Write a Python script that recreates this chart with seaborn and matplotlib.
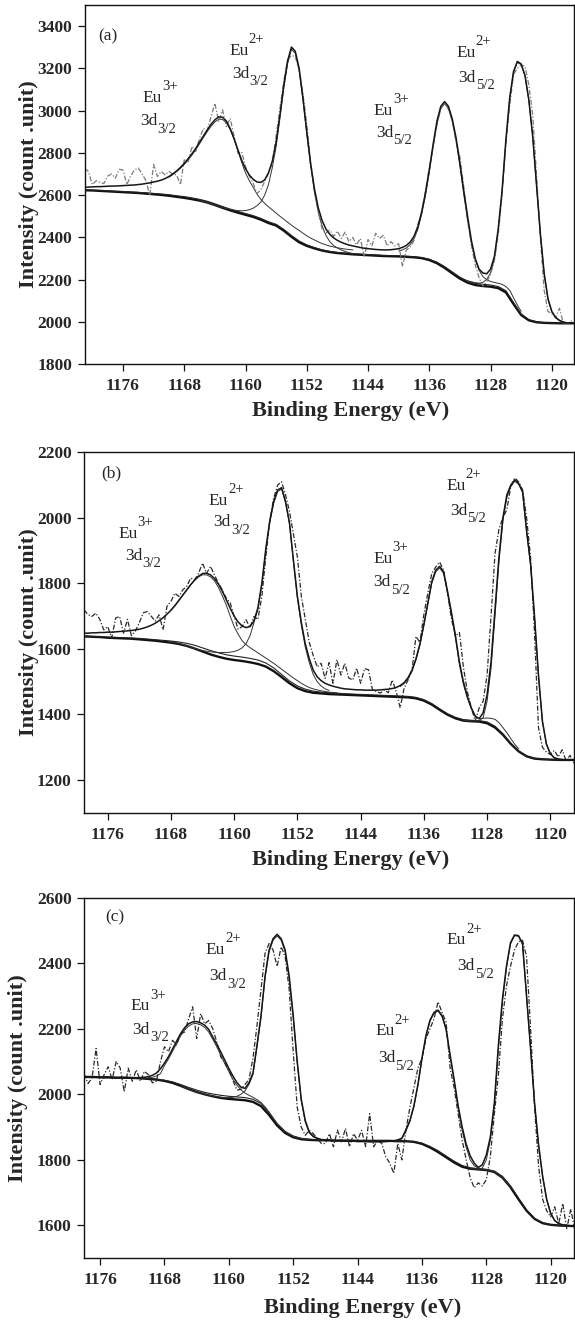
import numpy as np
import matplotlib
matplotlib.use("Agg")
import matplotlib.pyplot as plt
import seaborn as sns

# ---- Eu 3d XPS spectra, three samples (a), (b), (c) ----
# intensities, high -> low binding energy

# panel (a): scan 1181 -> 1117 eV, 0.5 eV step (fit/exp), 1 eV step (backgrounds)
A_SCAN = (1181.0, 1117.0)
A_EXP = [
    2727, 2711, 2650, 2668, 2660, 2655, 2690, 2700, 2680, 2722,
    2719, 2650, 2690, 2720, 2728, 2700, 2668, 2600, 2745, 2688,
    2712, 2695, 2712, 2700, 2695, 2650, 2767, 2752, 2830, 2806,
    2869, 2915, 2905, 2971, 3034, 2947, 3003, 2924, 2963, 2880,
    2798, 2805, 2735, 2690, 2656, 2608, 2625, 2665, 2703, 2752,
    2880, 3010, 3140, 3240, 3260, 3255, 3190, 3080, 2935, 2760,
    2620, 2520, 2440, 2420, 2435, 2405, 2430, 2395, 2425, 2380,
    2400, 2365, 2395, 2309, 2390, 2360, 2420, 2395, 2410, 2360,
    2380, 2360, 2370, 2262, 2340, 2355, 2385, 2460, 2515, 2620,
    2730, 2830, 2930, 3010, 3035, 3005, 2950, 2850, 2780, 2640,
    2480, 2360, 2270, 2210, 2170, 2190, 2225, 2290, 2410, 2600,
    2840, 3020, 3170, 3200, 3215, 3210, 3120, 2980, 2700, 2400,
    2150, 2050, 2040, 2020, 2065, 1995, 1990, 2005, 1990]
A_FIT = [
    2637, 2638, 2639, 2640, 2640, 2641, 2642, 2643, 2643, 2644,
    2645, 2646, 2647, 2648, 2650, 2652, 2655, 2658, 2662, 2666,
    2671, 2678, 2688, 2700, 2714, 2731, 2750, 2772, 2795, 2821,
    2850, 2880, 2908, 2935, 2956, 2970, 2968, 2950, 2915, 2868,
    2815, 2765, 2725, 2695, 2675, 2662, 2660, 2672, 2705, 2760,
    2850, 2980, 3120, 3235, 3300, 3280, 3200, 3060, 2900, 2750,
    2630, 2540, 2480, 2440, 2415, 2398, 2386, 2377, 2370, 2364,
    2360, 2356, 2352, 2349, 2347, 2345, 2343, 2342, 2341, 2341,
    2342, 2344, 2347, 2353, 2362, 2378, 2405, 2450, 2520, 2610,
    2720, 2840, 2950, 3020, 3042, 3020, 2960, 2870, 2750, 2620,
    2500, 2385, 2300, 2250, 2232, 2228, 2250, 2310, 2440, 2620,
    2860, 3060, 3185, 3232, 3220, 3165, 3050, 2880, 2650, 2420,
    2230, 2110, 2050, 2022, 2008, 2000, 1996, 1995, 1994]
A_BG = [
    2623, 2622, 2620, 2618, 2616, 2614, 2612, 2610, 2607, 2604,
    2601, 2597, 2592, 2587, 2581, 2574, 2565, 2553, 2540, 2528,
    2517, 2507, 2497, 2484, 2468, 2456, 2432, 2403, 2377, 2360,
    2348, 2338, 2331, 2326, 2323, 2320, 2318, 2316, 2314, 2312,
    2311, 2310, 2308, 2306, 2302, 2293, 2278, 2256, 2230, 2205,
    2186, 2175, 2170, 2167, 2160, 2140, 2085, 2033, 2008, 1999,
    1996, 1995, 1994, 1994, 1994]
A_BG2 = [
    2624, 2623, 2622, 2620, 2618, 2617, 2615, 2613, 2611, 2608,
    2605, 2602, 2597, 2593, 2587, 2580, 2571, 2559, 2546, 2534,
    2523, 2513, 2503, 2490, 2474, 2462, 2438, 2409, 2383, 2365,
    2352, 2341, 2334, 2329, 2326, 2323, 2321, 2319, 2317, 2315,
    2314, 2313, 2311, 2309, 2305, 2297, 2283, 2262, 2237, 2212,
    2194, 2183, 2178, 2175, 2168, 2148, 2092, 2038, 2011, 2001,
    1997, 1995, 1994, 1994, 1994]
# fitted components (peak + background), each on its own stretch of the scan
A_C1 = (1170.0, 1146.0, [
    2685, 2697, 2711, 2727, 2745, 2766, 2789, 2815, 2843, 2872,
    2900, 2926, 2946, 2958, 2958, 2942, 2910, 2865, 2810, 2755,
    2705, 2668, 2637, 2605, 2580, 2561, 2545, 2530, 2515, 2500,
    2486, 2472, 2458, 2445, 2433, 2420, 2408, 2397, 2388, 2379,
    2371, 2365, 2359, 2355, 2351, 2348, 2345, 2343, 2341])
A_C2 = (1166.0, 1146.0, [
    2574, 2570, 2565, 2559, 2553, 2547, 2541, 2536, 2532, 2529,
    2527, 2526, 2527, 2531, 2538, 2550, 2567, 2600, 2650, 2730,
    2830, 2965, 3106, 3222, 3290, 3270, 3190, 3050, 2890, 2740,
    2615, 2520, 2455, 2410, 2380, 2362, 2350, 2341, 2334, 2328,
    2324])
A_C3 = (1140.0, 1124.0, [
    2335, 2341, 2350, 2366, 2393, 2438, 2508, 2598, 2708, 2828,
    2938, 3008, 3032, 3010, 2950, 2858, 2738, 2605, 2482, 2375,
    2295, 2245, 2215, 2200, 2192, 2187, 2183, 2178, 2168, 2150,
    2115, 2080, 2050])
A_C4 = (1131.0, 1118.0, [
    2195, 2190, 2186, 2184, 2188, 2201, 2233, 2298, 2432, 2610,
    2850, 3052, 3180, 3228, 3217, 3163, 3048, 2878, 2648, 2418,
    2228, 2108, 2048, 2020, 2006, 1999, 1996])

# panel (b): scan 1179 -> 1117 eV
B_SCAN = (1179.0, 1117.0)
B_EXP = [
    1719, 1705, 1699, 1709, 1690, 1658, 1668, 1633, 1694, 1699,
    1648, 1690, 1640, 1655, 1680, 1710, 1714, 1700, 1685, 1704,
    1658, 1730, 1745, 1770, 1760, 1780, 1791, 1816, 1811, 1831,
    1862, 1830, 1852, 1826, 1801, 1780, 1755, 1740, 1699, 1660,
    1668, 1689, 1665, 1699, 1690, 1760, 1880, 1990, 2060, 2100,
    2110, 2070, 2020, 1950, 1880, 1760, 1690, 1620, 1580, 1545,
    1556, 1510, 1558, 1495, 1567, 1520, 1556, 1511, 1505, 1541,
    1495, 1540, 1536, 1475, 1470, 1465, 1475, 1466, 1505, 1470,
    1420, 1480, 1505, 1535, 1638, 1620, 1705, 1770, 1830, 1850,
    1865, 1840, 1770, 1690, 1640, 1650, 1545, 1470, 1420, 1380,
    1420, 1440, 1520, 1700, 1890, 1965, 2000, 2025, 2096, 2122,
    2110, 2085, 2000, 1880, 1650, 1360, 1300, 1285, 1278, 1290,
    1270, 1292, 1258, 1275, 1251]
B_FIT = [
    1648, 1648, 1649, 1649, 1650, 1650, 1651, 1651, 1652, 1653,
    1654, 1655, 1656, 1658, 1660, 1663, 1667, 1672, 1678, 1686,
    1695, 1706, 1718, 1732, 1748, 1764, 1780, 1796, 1810, 1822,
    1830, 1831, 1826, 1815, 1798, 1776, 1750, 1724, 1700, 1682,
    1670, 1665, 1668, 1685, 1725, 1800, 1905, 1990, 2050, 2085,
    2092, 2050, 1985, 1870, 1760, 1680, 1615, 1570, 1535, 1515,
    1503, 1495, 1490, 1486, 1483, 1480, 1478, 1477, 1476, 1475,
    1475, 1474, 1474, 1474, 1474, 1475, 1476, 1477, 1479, 1482,
    1488, 1497, 1512, 1535, 1570, 1615, 1675, 1740, 1805, 1840,
    1852, 1835, 1775, 1710, 1640, 1560, 1500, 1455, 1420, 1395,
    1387, 1405, 1460, 1560, 1720, 1880, 2000, 2070, 2100, 2116,
    2105, 2080, 1960, 1860, 1700, 1520, 1380, 1310, 1280, 1268,
    1264, 1262, 1261, 1261, 1261]
B_BG = [
    1638, 1637, 1636, 1634, 1633, 1632, 1631, 1629, 1627, 1625,
    1622, 1619, 1615, 1609, 1601, 1592, 1583, 1576, 1570, 1566,
    1563, 1559, 1554, 1546, 1532, 1514, 1495, 1480, 1471, 1466,
    1464, 1462, 1461, 1460, 1459, 1458, 1457, 1456, 1455, 1454,
    1453, 1452, 1449, 1442, 1430, 1414, 1399, 1388, 1381, 1379,
    1378, 1373, 1360, 1338, 1310, 1287, 1272, 1265, 1263, 1262,
    1261, 1261, 1261]
B_BG2 = [
    1639, 1638, 1637, 1636, 1635, 1634, 1633, 1632, 1630, 1628,
    1626, 1624, 1621, 1617, 1611, 1603, 1595, 1588, 1582, 1578,
    1575, 1571, 1566, 1557, 1542, 1522, 1502, 1487, 1477, 1471,
    1468, 1466, 1465, 1463, 1462, 1461, 1460, 1459, 1458, 1457,
    1456, 1455, 1452, 1445, 1433, 1417, 1402, 1391, 1384, 1382,
    1381, 1377, 1364, 1341, 1312, 1288, 1273, 1266, 1263, 1262,
    1261, 1261, 1261]
B_C1 = (1168.0, 1147.0, [
    1718, 1732, 1748, 1764, 1780, 1796, 1810, 1820, 1826, 1826,
    1820, 1808, 1788, 1762, 1734, 1700, 1668, 1645, 1625, 1613,
    1604, 1596, 1588, 1580, 1572, 1564, 1556, 1547, 1538, 1529,
    1520, 1511, 1503, 1495, 1488, 1482, 1478, 1475, 1472, 1470,
    1468, 1467, 1466])
B_C2 = (1168.0, 1148.0, [
    1622, 1620, 1617, 1613, 1609, 1605, 1601, 1598, 1595, 1593,
    1591, 1590, 1589, 1589, 1589, 1590, 1592, 1596, 1603, 1616,
    1640, 1680, 1720, 1795, 1900, 1985, 2045, 2080, 2088, 2046,
    1980, 1865, 1755, 1672, 1605, 1558, 1522, 1500, 1487, 1478,
    1473])
B_C3 = (1139.0, 1124.0, [
    1485, 1494, 1509, 1532, 1566, 1611, 1670, 1735, 1800, 1835,
    1847, 1830, 1770, 1704, 1632, 1552, 1492, 1450, 1418, 1393,
    1386, 1388, 1389, 1388, 1385, 1375, 1360, 1344, 1326, 1309,
    1295])
B_C4 = (1131.0, 1118.0, [
    1382, 1381, 1380, 1380, 1381, 1390, 1440, 1540, 1700, 1865,
    1990, 2062, 2095, 2112, 2102, 2077, 1957, 1857, 1697, 1517,
    1378, 1309, 1279, 1267, 1263, 1262, 1261])

# panel (c): scan 1178 -> 1117 eV
C_SCAN = (1178.0, 1117.0)
C_EXP = [
    2063, 2033, 2050, 2140, 2030, 2060, 2084, 2045, 2100, 2080,
    2008, 2080, 2040, 2075, 2040, 2070, 2060, 2035, 2040, 2099,
    2145, 2130, 2165, 2150, 2185, 2190, 2230, 2267, 2170, 2246,
    2215, 2225, 2200, 2160, 2114, 2095, 2075, 2043, 2013, 2015,
    2030, 2045, 2110, 2210, 2320, 2430, 2460, 2440, 2390, 2450,
    2420, 2320, 2130, 1960, 1900, 1875, 1890, 1880, 1865, 1850,
    1850, 1880, 1840, 1891, 1855, 1896, 1840, 1880, 1860, 1890,
    1840, 1941, 1840, 1860, 1850, 1810, 1790, 1759, 1850, 1800,
    1890, 1960, 2020, 2080, 2110, 2170, 2200, 2230, 2282, 2250,
    2220, 2080, 2020, 1940, 1860, 1800, 1745, 1715, 1730, 1720,
    1740, 1810, 1940, 2060, 2230, 2330, 2390, 2440, 2465, 2470,
    2420, 2200, 1960, 1780, 1680, 1645, 1626, 1657, 1605, 1667,
    1590, 1650, 1585]
C_FIT = [
    2053, 2053, 2052, 2052, 2052, 2051, 2051, 2051, 2050, 2050,
    2050, 2050, 2050, 2050, 2051, 2052, 2054, 2058, 2065, 2078,
    2095, 2115, 2138, 2162, 2185, 2203, 2215, 2221, 2222, 2218,
    2211, 2198, 2175, 2153, 2129, 2104, 2079, 2056, 2036, 2022,
    2018, 2035, 2065, 2150, 2240, 2360, 2440, 2475, 2488, 2475,
    2440, 2360, 2240, 2100, 1985, 1920, 1885, 1872, 1866, 1862,
    1861, 1860, 1859, 1858, 1858, 1857, 1857, 1857, 1856, 1856,
    1856, 1855, 1855, 1855, 1855, 1856, 1857, 1858, 1861, 1866,
    1891, 1920, 1965, 2030, 2110, 2180, 2226, 2250, 2257, 2240,
    2200, 2120, 2045, 1965, 1900, 1848, 1812, 1790, 1777, 1785,
    1815, 1870, 1975, 2150, 2290, 2390, 2462, 2486, 2484, 2460,
    2300, 2140, 1972, 1845, 1750, 1680, 1637, 1615, 1606, 1602,
    1600, 1599, 1598]
C_BG = [
    2053, 2053, 2052, 2052, 2051, 2051, 2050, 2049, 2047, 2045,
    2041, 2035, 2026, 2016, 2007, 2000, 1994, 1989, 1986, 1984,
    1982, 1977, 1964, 1937, 1905, 1882, 1869, 1863, 1861, 1860,
    1860, 1859, 1859, 1859, 1858, 1858, 1858, 1858, 1858, 1857,
    1857, 1855, 1849, 1838, 1824, 1808, 1792, 1779, 1773, 1771,
    1769, 1763, 1746, 1717, 1680, 1645, 1620, 1607, 1602, 1600,
    1599, 1598]
C_BG2 = [
    2053, 2053, 2052, 2052, 2051, 2051, 2050, 2049, 2048, 2046,
    2043, 2038, 2030, 2021, 2013, 2006, 2001, 1997, 1994, 1992,
    1990, 1985, 1972, 1944, 1911, 1887, 1873, 1866, 1863, 1861,
    1860, 1859, 1859, 1859, 1858, 1858, 1858, 1858, 1858, 1857,
    1857, 1856, 1851, 1841, 1828, 1812, 1796, 1783, 1776, 1773,
    1771, 1766, 1750, 1721, 1683, 1647, 1621, 1608, 1602, 1600,
    1599, 1598]
C_C1 = (1170.0, 1150.0, [
    2050, 2052, 2056, 2063, 2088, 2108, 2131, 2155, 2178, 2196,
    2208, 2215, 2216, 2212, 2204, 2190, 2168, 2145, 2120, 2094,
    2069, 2046, 2028, 2014, 2004, 1997, 1991, 1984, 1975, 1962,
    1946, 1928, 1911, 1897, 1886, 1878, 1872, 1868, 1865, 1863,
    1862])
C_C2 = (1166.0, 1148.0, [
    2026, 2021, 2016, 2011, 2007, 2003, 2000, 1997, 1995, 1993,
    1991, 1990, 1990, 1991, 1994, 2000, 2010, 2030, 2060, 2145,
    2235, 2355, 2435, 2470, 2483, 2470, 2435, 2355, 2235, 2095,
    1980, 1915, 1882, 1870, 1865, 1862, 1861])
C_C3 = (1139.0, 1125.0, [
    1860, 1864, 1888, 1917, 1962, 2027, 2107, 2177, 2223, 2247,
    2254, 2237, 2197, 2117, 2040, 1958, 1890, 1838, 1800, 1782,
    1775, 1772, 1770, 1768, 1764, 1756, 1746, 1733, 1717])
C_C4 = (1130.0, 1118.0, [
    1773, 1772, 1771, 1775, 1800, 1860, 1965, 2140, 2282, 2385,
    2458, 2484, 2482, 2458, 2298, 2138, 1970, 1843, 1748, 1679,
    1636, 1614, 1605, 1601, 1599])

# peak labels: (ion charge, level, E / I of "Eu", E / I of "3d")
A_LABELS = [("3+", "3/2", (1173.4, 3042), (1173.8, 2932)),
            ("2+", "3/2", (1162.1, 3262), (1161.8, 3155)),
            ("3+", "5/2", (1143.3, 2979), (1143.0, 2876)),
            ("2+", "5/2", (1132.5, 3254), (1132.2, 3136))]
B_LABELS = [("3+", "3/2", (1174.7, 1938), (1173.8, 1872)),
            ("2+", "3/2", (1163.2, 2040), (1162.6, 1974)),
            ("3+", "5/2", (1142.4, 1862), (1142.4, 1791)),
            ("2+", "5/2", (1133.2, 2086), (1132.7, 2010))]
C_LABELS = [("3+", "3/2", (1172.2, 2256), (1172.0, 2185)),
            ("2+", "3/2", (1162.9, 2429), (1162.4, 2348)),
            ("2+", "5/2", (1141.8, 2180), (1141.5, 2099)),
            ("2+", "5/2", (1132.9, 2458), (1131.6, 2378))]

X_TICKS = [1176, 1168, 1160, 1152, 1144, 1136, 1128, 1120]


def scan(start, stop, step):
    """energy axis of a scan, high -> low binding energy"""
    return np.arange(start, stop - step / 2, -step)


sns.set_style("ticks")
plt.rcParams["font.family"] = ["Liberation Serif", "DejaVu Serif"]
plt.rcParams["axes.linewidth"] = 1.0
plt.rcParams["axes.edgecolor"] = "#111111"

fig = plt.figure(figsize=(5.75, 13.21), dpi=100)

panels = [
    dict(tag="(a)", scan=A_SCAN, exp=A_EXP, fit=A_FIT, bg=A_BG, bg2=A_BG2,
         comps=[A_C1, A_C2, A_C3, A_C4], labels=A_LABELS,
         rect=[0.1473, 0.7242, 0.8510, 0.2722], xlim=(1181.0, 1117.1),
         ylim=(1800, 3500), yticks=[1800, 2000, 2200, 2400, 2600, 2800, 3000, 3200, 3400],
         exp_color="#7a7a7a", tag_pos=(0.027, 0.900), ylab_x=-0.094, xlab=(0.544, -0.102)),
    dict(tag="(b)", scan=B_SCAN, exp=B_EXP, fit=B_FIT, bg=B_BG, bg2=B_BG2,
         comps=[B_C1, B_C2, B_C3, B_C4], labels=B_LABELS,
         rect=[0.1461, 0.3848, 0.8522, 0.2728], xlim=(1179.0, 1117.0),
         ylim=(1100, 2200), yticks=[1200, 1400, 1600, 1800, 2000, 2200],
         exp_color="#2a2a2a", tag_pos=(0.035, 0.931), ylab_x=-0.092, xlab=(0.544, -0.104)),
    dict(tag="(c)", scan=C_SCAN, exp=C_EXP, fit=C_FIT, bg=C_BG, bg2=C_BG2,
         comps=[C_C1, C_C2, C_C3, C_C4], labels=C_LABELS,
         rect=[0.1461, 0.0475, 0.8522, 0.2730], xlim=(1178.0, 1117.1),
         ylim=(1500, 2600), yticks=[1600, 1800, 2000, 2200, 2400, 2600],
         exp_color="#2a2a2a", tag_pos=(0.043, 0.933), ylab_x=-0.114, xlab=(0.568, -0.109)),
]

for p in panels:
    ax = fig.add_axes(p["rect"])
    e_hi, e_lo = p["scan"]

    # backgrounds (Shirley type), thick + thin
    sns.lineplot(x=scan(e_hi, e_lo, 1.0), y=p["bg"], ax=ax, color="#111111",
                 lw=1.7, sort=False, estimator=None)
    sns.lineplot(x=scan(e_hi, e_lo, 1.0), y=p["bg2"], ax=ax, color="#222222",
                 lw=0.8, sort=False, estimator=None)
    # individual fitted components
    for c_hi, c_lo, vals in p["comps"]:
        sns.lineplot(x=scan(c_hi, c_lo, 0.5), y=vals, ax=ax, color="#333333",
                     lw=0.7, sort=False, estimator=None)
    # measured spectrum (dash-dot) and total fit
    sns.lineplot(x=scan(e_hi, e_lo, 0.5), y=p["exp"], ax=ax, color=p["exp_color"],
                 lw=0.9, linestyle=(0, (4, 1.5, 1, 1.5)), sort=False, estimator=None)
    sns.lineplot(x=scan(e_hi, e_lo, 0.5), y=p["fit"], ax=ax, color="#161616",
                 lw=1.1, sort=False, estimator=None)

    ax.set_xlim(*p["xlim"])
    ax.set_ylim(*p["ylim"])
    ax.set_xticks(X_TICKS)
    ax.set_yticks(p["yticks"])
    ax.tick_params(direction="out", length=5, width=0.9, labelsize=12.5, color="#111111")
    ax.tick_params(axis="x", pad=5.2)
    ax.tick_params(axis="y", pad=4)
    for lab in ax.get_xticklabels() + ax.get_yticklabels():
        lab.set_fontweight("bold")

    ax.set_xlabel("Binding Energy (eV)", fontsize=16, fontweight="bold")
    ax.set_ylabel("Intensity (count .unit)", fontsize=16, fontweight="bold")
    ax.xaxis.set_label_coords(*p["xlab"])
    ax.yaxis.set_label_coords(p["ylab_x"], 0.5)

    ax.text(*p["tag_pos"], p["tag"], transform=ax.transAxes, fontsize=12.5,
            ha="left", va="baseline")

    for charge, level, eu_pos, d_pos in p["labels"]:
        ax.text(*eu_pos, "Eu", fontsize=12.5, ha="left", va="baseline")
        ax.annotate(charge, xy=eu_pos, xytext=(14, 8.4), textcoords="offset points",
                    fontsize=10.5, ha="left", va="baseline")
        ax.text(*d_pos, "3d", fontsize=12.5, ha="left", va="baseline")
        ax.annotate(level, xy=d_pos, xytext=(12.6, -5.5), textcoords="offset points",
                    fontsize=10.5, ha="left", va="baseline")

fig.savefig("out.png", dpi=100)
